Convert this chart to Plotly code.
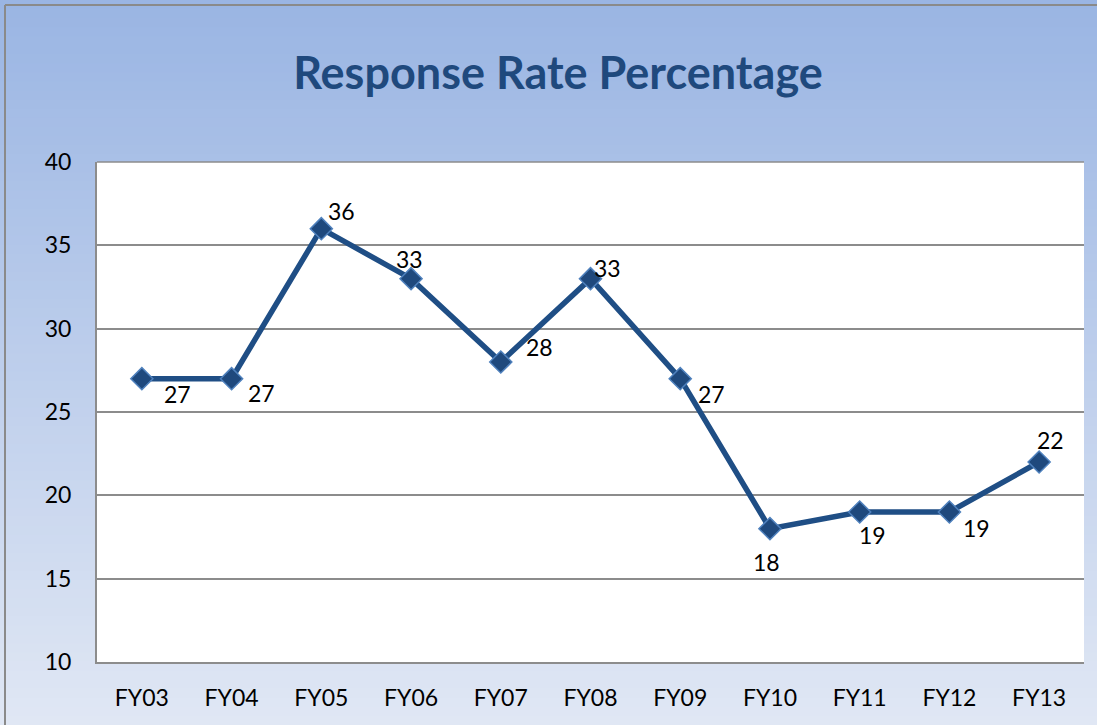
import plotly.graph_objects as go

years = ["FY03", "FY04", "FY05", "FY06", "FY07", "FY08",
         "FY09", "FY10", "FY11", "FY12", "FY13"]
rates = [27, 27, 36, 33, 28, 33, 27, 18, 19, 19, 22]
y_ticks = [10, 15, 20, 25, 30, 35, 40]

# label offsets (px) for each point, as in the original chart
label_dx = [36, 30, 20, -2, 39, 17, 31, -3, 13, 27, 11]
label_dy = [-15, -14, 18, 20, 15, 11, -15, -33, -23, -16, 22]

W, H = 1097, 725
ML, MR, MT, MB = 97, 13, 162, 63
PW, PH = W - ML - MR, H - MT - MB

LINE = "#1f4e85"
TITLE = "#1f497d"
GRID = "#8c8c8c"
FONT = "Lato, 'Open Sans', sans-serif"


def px_to_paper_x(px):
    return (px - ML) / PW


def px_to_paper_y(py):
    return (H - MB - py) / PH


fig = go.Figure()
fig.add_trace(go.Scatter(
    x=years, y=rates, mode="lines+markers",
    line=dict(color=LINE, width=5.5),
    marker=dict(symbol="diamond", size=17, color="#1f497d",
                line=dict(color="#4f81bd", width=1.5)),
    hoverinfo="x+y", showlegend=False,
))

for yr, v, dx, dy in zip(years, rates, label_dx, label_dy):
    fig.add_annotation(x=yr, y=v, text=str(v), showarrow=False,
                       xshift=dx, yshift=dy,
                       font=dict(size=23, color="black", family=FONT))

# vertical gradient background (darker blue at top)
top_rgb = (0x9a, 0xb5, 0xe3)
bot_rgb = (0xe0, 0xe7, 0xf4)
n_bands = 80
shapes = []
for i in range(n_bands):
    t = i / (n_bands - 1)
    c = tuple(round(a + (b - a) * t) for a, b in zip(top_rgb, bot_rgb))
    y_top = H * i / n_bands
    y_bot = H * (i + 1) / n_bands + 1
    shapes.append(dict(
        type="rect", xref="paper", yref="paper", layer="below",
        x0=px_to_paper_x(0), x1=px_to_paper_x(W),
        y0=px_to_paper_y(y_bot), y1=px_to_paper_y(y_top),
        fillcolor="rgb(%d,%d,%d)" % c, line_width=0,
    ))
# white plot area on top of gradient
shapes.append(dict(type="rect", xref="paper", yref="paper", layer="below",
                   x0=0, x1=1, y0=0, y1=1, fillcolor="white", line_width=0))
# top edge of plot area (the 40 gridline)
shapes.append(dict(type="line", xref="paper", yref="paper", layer="above",
                   x0=0, x1=1, y0=1, y1=1,
                   line=dict(color=GRID, width=1.5)))
# outer chart border (top and left visible)
shapes.append(dict(type="line", xref="paper", yref="paper", layer="below",
                   x0=px_to_paper_x(5), x1=px_to_paper_x(W),
                   y0=px_to_paper_y(5), y1=px_to_paper_y(5),
                   line=dict(color="#8a8a8a", width=2)))
shapes.append(dict(type="line", xref="paper", yref="paper", layer="below",
                   x0=px_to_paper_x(5), x1=px_to_paper_x(5),
                   y0=px_to_paper_y(H), y1=px_to_paper_y(5),
                   line=dict(color="#8a8a8a", width=2)))

fig.update_layout(
    width=W, height=H,
    margin=dict(l=ML, r=MR, t=MT, b=MB),
    paper_bgcolor="#c8d6ee", plot_bgcolor="white",
    font=dict(family=FONT, size=23, color="black"),
    title=dict(text="<b>Response Rate Percentage</b>",
               x=558 / W, xref="container", xanchor="center",
               y=1 - 73 / H, yanchor="middle",
               font=dict(size=45, color=TITLE, family=FONT)),
    shapes=shapes,
    xaxis=dict(range=[-0.5, len(years) - 0.5], showgrid=False,
               showline=True, linecolor=GRID, linewidth=2,
               ticks="", ticklabelstandoff=14,
               tickfont=dict(size=23, color="black")),
    yaxis=dict(range=[10, 40], tickvals=y_ticks, showgrid=True,
               gridcolor=GRID, gridwidth=1.5, zeroline=False,
               showline=True, linecolor=GRID, linewidth=2,
               ticks="", ticklabelstandoff=19,
               tickfont=dict(size=23, color="black")),
)

fig.write_html("out.html", config={"displayModeBar": False},
               post_script="document.body.style.margin='0';")
